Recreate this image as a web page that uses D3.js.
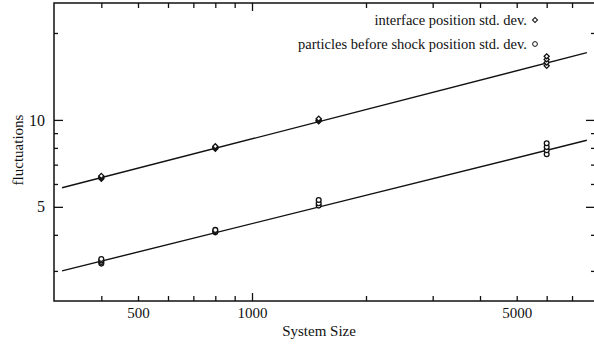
<html>
<head>
<meta charset="utf-8">
<title>fluctuations vs system size</title>
<style>
body { margin: 0; background: #fff; }
text { font-family: "Liberation Serif", "DejaVu Serif", serif; fill: #111; }
</style>
</head>
<body>
<svg width="594" height="351"></svg>
<script src="https://d3js.org/d3.v7.min.js"></script>
<script>

// system sizes where runs were made, and the measured std. devs
var sizes = [400, 800, 1500, 6000];
var interfaceDev = [
  [6.25, 6.3, 6.35, 6.4],
  [7.95, 8.0, 8.05, 8.1],
  [9.9, 9.95, 10.0, 10.1],
  [15.4, 15.8, 16.2, 16.6]
];
var particleDev = [
  [3.18, 3.22, 3.26, 3.3],
  [4.08, 4.12, 4.16],
  [5.05, 5.15, 5.28],
  [7.6, 7.85, 8.05, 8.3]
];

// fitted power law lines (end points)
var fitX = [315, 7660];
var interfaceFit = [5.82, 17.1];
var particleFit = [3.0, 8.5];

// axis ticks
var xMajor = [1000];
var xMinor = [400, 500, 600, 700, 800, 900, 2000, 3000, 4000, 5000, 6000, 7000];
var xLabels = [500, 1000, 5000];
var yMajor = [5, 10];
var yMinor = [3, 4, 6, 7, 8, 9, 20];
var yLabels = [5, 10];

var legendLabels = ["interface position std. dev.", "particles before shock position std. dev."];

var svg = d3.select("svg");
var pL = 54, pR = 595, pT = 3, pB = 301;

var x = d3.scaleLog().domain([300, 8000]).range([pL, 594]);
var y = d3.scaleLog().domain([2.36, 25.4]).range([pB, pT]);

function clean(g) {
  g.select(".domain").remove();
  g.selectAll(".tick line").attr("stroke", "#111").attr("stroke-width", 1.3);
}

// ticks on all four sides, pointing inwards
function xTicks(axisFn, yPos) {
  svg.append("g").attr("transform", "translate(0," + yPos + ")")
      .call(axisFn(x).tickValues(xMinor).tickSize(-5).tickFormat("")).call(clean);
  svg.append("g").attr("transform", "translate(0," + yPos + ")")
      .call(axisFn(x).tickValues(xMajor).tickSize(-8).tickFormat("")).call(clean);
}
function yTicks(axisFn, xPos) {
  svg.append("g").attr("transform", "translate(" + xPos + ",0)")
      .call(axisFn(y).tickValues(yMinor).tickSize(-4).tickFormat("")).call(clean);
  svg.append("g").attr("transform", "translate(" + xPos + ",0)")
      .call(axisFn(y).tickValues(yMajor).tickSize(-9).tickFormat("")).call(clean);
}
xTicks(d3.axisBottom, pB);
xTicks(d3.axisTop, pT);
yTicks(d3.axisLeft, pL);
yTicks(d3.axisRight, pR);

// tick labels
svg.append("g").attr("transform", "translate(0," + pB + ")")
    .call(d3.axisBottom(x).tickValues(xLabels).tickSize(0).tickPadding(6).tickFormat(d3.format("d")))
    .call(function(g) { g.select(".domain").remove(); })
    .selectAll("text").attr("font-size", 15).attr("font-family", null);

svg.append("g").attr("transform", "translate(" + pL + ",0)")
    .call(d3.axisLeft(y).tickValues(yLabels).tickSize(0).tickPadding(9).tickFormat(d3.format("d")))
    .call(function(g) { g.select(".domain").remove(); })
    .selectAll("text").attr("font-size", 16).attr("font-family", null);

// frame
svg.append("rect")
    .attr("x", pL).attr("y", pT)
    .attr("width", pR - pL).attr("height", pB - pT)
    .attr("fill", "none").attr("stroke", "#111").attr("stroke-width", 1.5);

// axis titles
svg.append("text")
    .attr("x", (pL + 594) / 2 - 5).attr("y", 336)
    .attr("text-anchor", "middle").attr("font-size", 15)
    .text("System Size");

svg.append("text")
    .attr("transform", "translate(23,150) rotate(-90)")
    .attr("text-anchor", "middle").attr("font-size", 15)
    .text("fluctuations");

// fit lines
var line = d3.line()
    .x(function(d) { return x(d[0]); })
    .y(function(d) { return y(d[1]); });

[interfaceFit, particleFit].forEach(function(fit) {
  svg.append("path")
      .datum(fitX.map(function(v, i) { return [v, fit[i]]; }))
      .attr("d", line)
      .attr("fill", "none").attr("stroke", "#111").attr("stroke-width", 1.4);
});

// markers
var diamond = d3.symbol(d3.symbolSquare, 13);
var circle = d3.symbol(d3.symbolCircle, 18);

function points(devs, sym, rot) {
  var flat = [];
  devs.forEach(function(vals, i) {
    vals.forEach(function(v) { flat.push([sizes[i], v]); });
  });
  svg.append("g").selectAll("path")
    .data(flat)
    .enter().append("path")
      .attr("transform", function(d) { return "translate(" + x(d[0]) + "," + y(d[1]) + ") rotate(" + rot + ")"; })
      .attr("d", sym)
      .attr("fill", "#fff").attr("stroke", "#111").attr("stroke-width", 1.3);
}
points(interfaceDev, diamond, 45);
points(particleDev, circle, 0);

// legend
var legend = svg.append("g").selectAll("g")
  .data(legendLabels)
  .enter().append("g")
    .attr("transform", function(d, i) { return "translate(535," + (20 + i * 24) + ")"; });

legend.append("text")
    .attr("x", -8).attr("y", 4.5)
    .attr("text-anchor", "end").attr("font-size", 14.5)
    .text(function(d) { return d; });

legend.append("path")
    .attr("transform", function(d, i) { return i === 0 ? "rotate(45)" : null; })
    .attr("d", function(d, i) { return i === 0 ? diamond() : circle(); })
    .attr("fill", "#fff").attr("stroke", "#111").attr("stroke-width", 1);

</script>
</body>
</html>
